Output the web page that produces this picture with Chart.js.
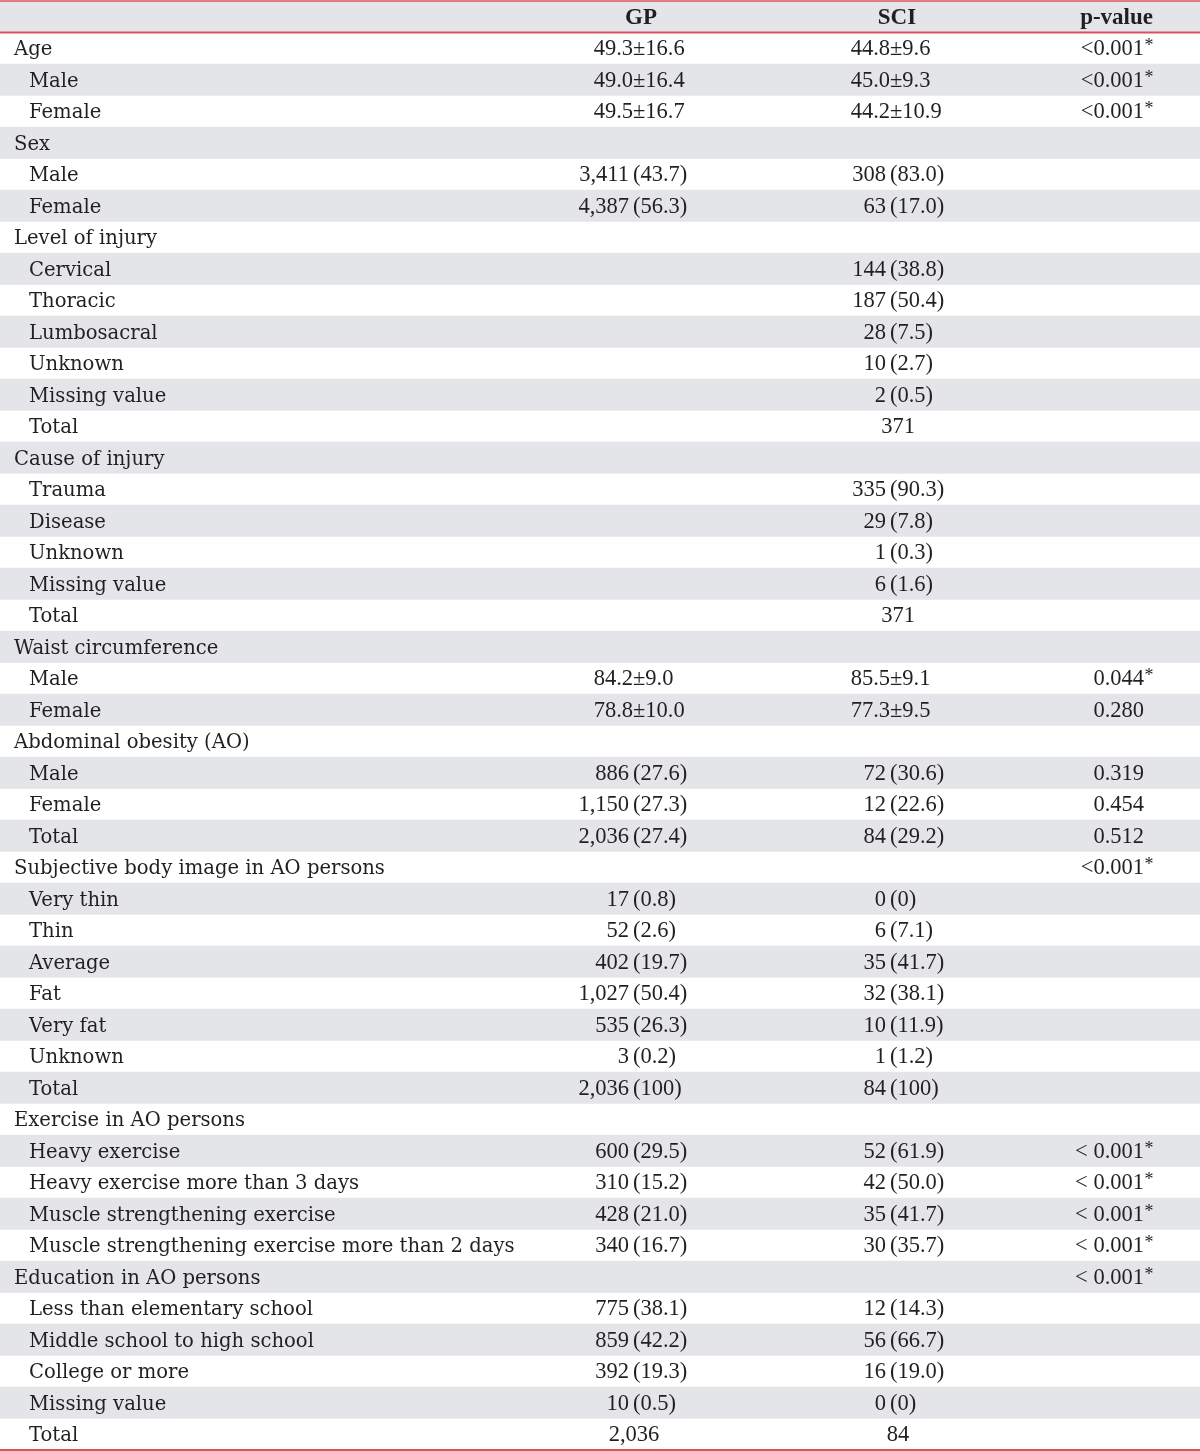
<!DOCTYPE html>
<html lang="en">
<head>
    <meta charset="UTF-8">
    <title>GP vs SCI – abdominal obesity table</title>
    <script src="https://cdn.jsdelivr.net/npm/chart.js"></script>
    <style>
        html, body { margin: 0; padding: 0; background: #ffffff; }
        #wrap { width: 1200px; height: 1451px; }
    </style>
</head>
<body>
<div id="wrap"><canvas id="tabla"></canvas></div>

<script>
    // Column headers
    const headers = ['GP', 'SCI', 'p-value'];

    // Row labels (0 = group row, 1 = indented sub row)
    const rowLabels = [
        'Age', 'Male', 'Female',
        'Sex', 'Male', 'Female',
        'Level of injury', 'Cervical', 'Thoracic', 'Lumbosacral', 'Unknown', 'Missing value', 'Total',
        'Cause of injury', 'Trauma', 'Disease', 'Unknown', 'Missing value', 'Total',
        'Waist circumference', 'Male', 'Female',
        'Abdominal obesity (AO)', 'Male', 'Female', 'Total',
        'Subjective body image in AO persons', 'Very thin', 'Thin', 'Average', 'Fat', 'Very fat', 'Unknown', 'Total',
        'Exercise in AO persons', 'Heavy exercise', 'Heavy exercise more than 3 days',
        'Muscle strengthening exercise', 'Muscle strengthening exercise more than 2 days',
        'Education in AO persons', 'Less than elementary school', 'Middle school to high school',
        'College or more', 'Missing value', 'Total'
    ];
    const rowLevel = [
        0, 1, 1,
        0, 1, 1,
        0, 1, 1, 1, 1, 1, 1,
        0, 1, 1, 1, 1, 1,
        0, 1, 1,
        0, 1, 1, 1,
        0, 1, 1, 1, 1, 1, 1, 1,
        0, 1, 1, 1, 1,
        0, 1, 1, 1, 1, 1
    ];

    const gpValues = [
        '49.3±16.6', '49.0±16.4', '49.5±16.7',
        '', '3,411 (43.7)', '4,387 (56.3)',
        '', '', '', '', '', '', '',
        '', '', '', '', '', '',
        '', '84.2±9.0', '78.8±10.0',
        '', '886 (27.6)', '1,150 (27.3)', '2,036 (27.4)',
        '', '17 (0.8)', '52 (2.6)', '402 (19.7)', '1,027 (50.4)', '535 (26.3)', '3 (0.2)', '2,036 (100)',
        '', '600 (29.5)', '310 (15.2)', '428 (21.0)', '340 (16.7)',
        '', '775 (38.1)', '859 (42.2)', '392 (19.3)', '10 (0.5)', '2,036'
    ];
    const sciValues = [
        '44.8±9.6', '45.0±9.3', '44.2±10.9',
        '', '308 (83.0)', '63 (17.0)',
        '', '144 (38.8)', '187 (50.4)', '28 (7.5)', '10 (2.7)', '2 (0.5)', '371',
        '', '335 (90.3)', '29 (7.8)', '1 (0.3)', '6 (1.6)', '371',
        '', '85.5±9.1', '77.3±9.5',
        '', '72 (30.6)', '12 (22.6)', '84 (29.2)',
        '', '0 (0)', '6 (7.1)', '35 (41.7)', '32 (38.1)', '10 (11.9)', '1 (1.2)', '84 (100)',
        '', '52 (61.9)', '42 (50.0)', '35 (41.7)', '30 (35.7)',
        '', '12 (14.3)', '56 (66.7)', '16 (19.0)', '0 (0)', '84'
    ];
    const pValues = [
        '<0.001*', '<0.001*', '<0.001*',
        '', '', '',
        '', '', '', '', '', '', '',
        '', '', '', '', '', '',
        '', '0.044*', '0.280',
        '', '0.319', '0.454', '0.512',
        '<0.001*', '', '', '', '', '', '', '',
        '', '< 0.001*', '< 0.001*', '< 0.001*', '< 0.001*',
        '< 0.001*', '', '', '', '', ''
    ];

    // layout (x in scale units = px)
    const colX = { label: 14, indent: 15, gpAnchor: 633, gpPlain: 634, sciAnchor: 890, sciPlain: 898, pRight: 1144 };
    const colores = { fondo: '#e4e5e8', linea: '#d8545c', texto: '#231f20' };
    const fuenteTexto = '19.6px "DejaVu Serif"';
    const fuenteNum = '22.5px "Liberation Serif"';
    const fuenteHead = 'bold 23px "Liberation Serif"';

    // category 0 is the header row
    const categorias = ['header'].concat(rowLabels.map((l, i) => i + ':' + l));
    const sombreado = categorias.map((c, i) => (i % 2 === 0) ? [0, 1200] : null);

    function celdaNum(ctx, txt, anchor, plainX, y) {
        if (!txt) return;
        let corte = txt.indexOf(' (');
        if (corte < 0) corte = txt.indexOf('±');
        if (corte >= 0) {
            const izq = txt.slice(0, corte);
            const der = txt.slice(corte).trim();
            ctx.textAlign = 'right';
            ctx.fillText(izq, anchor - (txt[corte] === ' ' ? 4 : 0), y);
            ctx.textAlign = 'left';
            ctx.fillText(der, anchor, y);
        } else {
            ctx.textAlign = 'center';
            ctx.fillText(txt, plainX, y);
        }
    }

    const tablaPlugin = {
        id: 'tabla',
        afterDatasetsDraw(chart) {
            const ctx = chart.ctx;
            const xs = chart.scales.x;
            const ys = chart.scales.y;
            const banda = ys.getPixelForValue(1) - ys.getPixelForValue(0);
            ctx.save();
            ctx.fillStyle = colores.texto;
            ctx.textBaseline = 'alphabetic';

            // header
            const yh = ys.getPixelForValue(0) + 7;
            ctx.font = fuenteHead;
            ctx.textAlign = 'center';
            ctx.fillText(headers[0], xs.getPixelForValue(641), yh);
            ctx.fillText(headers[1], xs.getPixelForValue(897), yh);
            ctx.textAlign = 'right';
            ctx.fillText(headers[2], xs.getPixelForValue(1153), yh);

            rowLabels.forEach((lab, i) => {
                const y = ys.getPixelForValue(i + 1) + 7;
                ctx.font = fuenteTexto;
                ctx.textAlign = 'left';
                ctx.fillText(lab, xs.getPixelForValue(colX.label + rowLevel[i] * colX.indent), y);

                ctx.font = fuenteNum;
                celdaNum(ctx, gpValues[i], xs.getPixelForValue(colX.gpAnchor), xs.getPixelForValue(colX.gpPlain), y);
                celdaNum(ctx, sciValues[i], xs.getPixelForValue(colX.sciAnchor), xs.getPixelForValue(colX.sciPlain), y);

                const p = pValues[i];
                if (p) {
                    const estrella = p.endsWith('*');
                    const num = estrella ? p.slice(0, -1) : p;
                    ctx.textAlign = 'right';
                    ctx.fillText(num, xs.getPixelForValue(colX.pRight), y);
                    if (estrella) {
                        ctx.font = '18px "Liberation Serif"';
                        ctx.textAlign = 'left';
                        ctx.fillText('*', xs.getPixelForValue(colX.pRight) + 0.5, y - 4);
                    }
                }
            });

            // red rules: top, under header, bottom
            ctx.strokeStyle = colores.linea;
            const top = ys.getPixelForValue(0) - banda / 2;
            const bajoHead = ys.getPixelForValue(0) + banda / 2;
            const fin = ys.getPixelForValue(rowLabels.length) + banda / 2;
            ctx.lineWidth = 1.5;
            ctx.beginPath(); ctx.moveTo(xs.left, top); ctx.lineTo(xs.right, top); ctx.stroke();
            ctx.lineWidth = 2;
            ctx.beginPath(); ctx.moveTo(xs.left, bajoHead); ctx.lineTo(xs.right, bajoHead); ctx.stroke();
            ctx.beginPath(); ctx.moveTo(xs.left, fin); ctx.lineTo(xs.right, fin); ctx.stroke();
            ctx.restore();
        }
    };

    const chart = new Chart(document.getElementById('tabla'), {
        type: 'bar',
        data: {
            labels: categorias,
            datasets: [{
                data: sombreado,
                backgroundColor: colores.fondo,
                borderWidth: 0,
                barPercentage: 1,
                categoryPercentage: 1,
                grouped: false
            }]
        },
        options: {
            indexAxis: 'y',
            responsive: true,
            maintainAspectRatio: false,
            animation: false,
            events: [],
            layout: { padding: { top: 1, bottom: 1, left: 0, right: 0 } },
            plugins: { legend: { display: false }, tooltip: { enabled: false } },
            scales: {
                x: { type: 'linear', min: 0, max: 1200, display: false },
                y: { type: 'category', display: false, offset: true }
            }
        },
        plugins: [tablaPlugin]
    });
</script>
</body>
</html>
